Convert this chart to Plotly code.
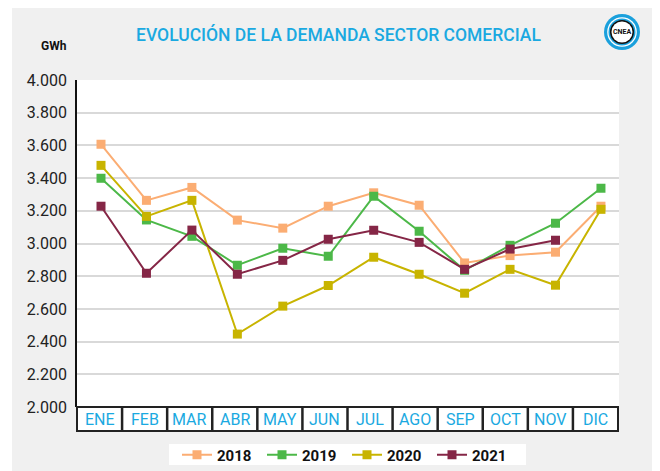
import plotly.graph_objects as go

meses = ["ENE", "FEB", "MAR", "ABR", "MAY", "JUN", "JUL", "AGO", "SEP", "OCT", "NOV", "DIC"]
v2018 = [3607, 3264, 3343, 3143, 3094, 3228, 3310, 3234, 2881, 2926, 2947, 3228]
v2019 = [3399, 3144, 3044, 2867, 2971, 2922, 3289, 3075, 2836, 2989, 3124, 3338]
v2020 = [3478, 3166, 3264, 2446, 2617, 2743, 2916, 2812, 2696, 2842, 2745, 3209]
v2021 = [3228, 2818, 3082, 2812, 2897, 3026, 3081, 3007, 2842, 2966, 3020, None]
anios = ["2018", "2019", "2020", "2021"]
colores = ["#fbad73", "#4cb848", "#c8b400", "#852646"]
series = [v2018, v2019, v2020, v2021]

# page has an 8px body margin; work in screen pixels and convert
O = 8
W, H = 660 - O, 471 - O
L, R, T, B = 77 - O, 41, 80 - O, 64
PW, PH = W - L - R, H - T - B

def px(x):
    return (x - O - L) / PW

def py(y):
    return (H - B - (y - O)) / PH

fig = go.Figure()
for name, col, vals in zip(anios, colores, series):
    fig.add_trace(go.Scatter(
        x=list(range(len(meses))), y=vals, name=name, mode="lines+markers",
        line=dict(color=col, width=2), marker=dict(symbol="square", size=9, color=col),
        connectgaps=False,
    ))

shapes = []
# white strip at left of page
shapes.append(dict(type="rect", xref="paper", yref="paper", x0=px(0), x1=px(12), y0=py(480), y1=py(0),
                   fillcolor="white", line=dict(width=0), layer="below"))
# legend background box
shapes.append(dict(type="rect", xref="paper", yref="paper", x0=px(169), x1=px(526), y0=py(465), y1=py(444),
                   fillcolor="white", line=dict(width=0), layer="below"))
# category table
tl, tr, tt, tb = 77, 618, 407, 431
shapes.append(dict(type="rect", xref="paper", yref="paper", x0=px(tl), x1=px(tr), y0=py(tb), y1=py(tt),
                   fillcolor="white", line=dict(color="#222222", width=2)))
cw = (tr - tl) / 12
annotations = []
for i, m in enumerate(meses):
    if i > 0:
        xx = tl + cw * i
        shapes.append(dict(type="line", xref="paper", yref="paper", x0=px(xx), x1=px(xx), y0=py(tb), y1=py(tt),
                           line=dict(color="#222222", width=2.5)))
    annotations.append(dict(text=m, xref="paper", yref="paper", x=px(tl + cw * (i + 0.5)), y=py((tt + tb) / 2 + 1),
                            showarrow=False, xanchor="center", yanchor="middle",
                            font=dict(family="Roboto", size=16, color="#1aa9e1")))

# logo
cx, cy = 622, 32
for r, c in [(18, "#1aa0dc"), (14.8, "white"), (13.5, "#1aa0dc"), (12, "#111111"), (10.5, "white")]:
    shapes.append(dict(type="circle", xref="paper", yref="paper", x0=px(cx - r), x1=px(cx + r),
                       y0=py(cy + r), y1=py(cy - r), fillcolor=c, line=dict(width=0)))
annotations.append(dict(text="<b>CNEA</b>", xref="paper", yref="paper", x=px(cx), y=py(cy), showarrow=False,
                        xanchor="center", yanchor="middle", font=dict(family="Roboto", size=7, color="#111111")))

annotations.append(dict(text="EVOLUCIÓN DE LA DEMANDA SECTOR COMERCIAL", xref="paper", yref="paper",
                        x=px(338), y=py(35), showarrow=False, xanchor="center", yanchor="middle",
                        font=dict(family="Roboto", size=17.5, color="#1aa9e1", weight=500)))
annotations.append(dict(text="<b>GWh</b>", xref="paper", yref="paper", x=px(69), y=py(46), showarrow=False,
                        xanchor="right", yanchor="middle", font=dict(family="Roboto", size=12, color="#111111")))

fig.update_layout(
    width=W, height=H, margin=dict(l=L, r=R, t=T, b=B, autoexpand=False),
    paper_bgcolor="#f0f0f0", plot_bgcolor="white",
    separators=",.",
    showlegend=True,
    legend=dict(orientation="h", x=px(347), xanchor="center", y=py(455), yanchor="middle",
                bgcolor="rgba(0,0,0,0)", font=dict(family="Roboto", size=15, color="#111111", weight="bold"),
                entrywidth=40, traceorder="normal", itemwidth=30),
    shapes=shapes, annotations=annotations,
    font=dict(family="Roboto"),
)
fig.update_xaxes(range=[-0.528, 11.397], showticklabels=False, showgrid=False, zeroline=False,
                 tickvals=list(range(12)))
fig.update_yaxes(range=[2000, 4000], tickvals=list(range(2000, 4001, 200)), tickformat=",d",
                 showgrid=True, gridcolor="#d9d9d9", gridwidth=1.5, zeroline=False,
                 showline=True, linecolor="#111111", linewidth=1.5,
                 tickfont=dict(family="Roboto", size=16, color="#222222"), ticks="", ticklabelstandoff=5)
fig.write_html("out.html")
